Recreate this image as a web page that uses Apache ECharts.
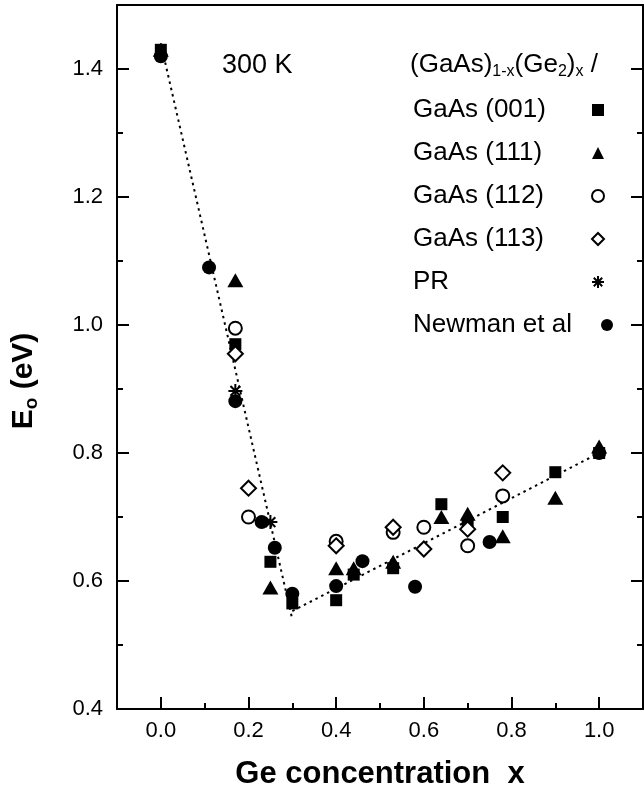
<!DOCTYPE html>
<html><head><meta charset="utf-8">
<script src="https://cdn.jsdelivr.net/npm/echarts@6/dist/echarts.min.js"></script>
<style>html,body{margin:0;padding:0;background:#fff}#c{width:644px;height:793px}</style>
</head><body><div id="c"></div>
<script>
// ---- data ----
const gaas001X = [0, 0.17, 0.25, 0.30, 0.40, 0.44, 0.53, 0.64, 0.70, 0.78, 0.90, 1.00];
const gaas001Y = [1.43, 0.97, 0.63, 0.565, 0.57, 0.61, 0.62, 0.72, 0.69, 0.70, 0.77, 0.80];
const gaas111X = [0, 0.17, 0.25, 0.40, 0.44, 0.53, 0.64, 0.70, 0.78, 0.90, 1.00];
const gaas111Y = [1.43, 1.07, 0.59, 0.62, 0.62, 0.63, 0.70, 0.705, 0.67, 0.73, 0.81];
const gaas112X = [0.17, 0.20, 0.40, 0.53, 0.60, 0.70, 0.78];
const gaas112Y = [0.995, 0.70, 0.662, 0.676, 0.684, 0.655, 0.733];
const gaas113X = [0.17, 0.20, 0.40, 0.53, 0.60, 0.70, 0.78];
const gaas113Y = [0.955, 0.745, 0.655, 0.684, 0.65, 0.681, 0.769];
const prX = [0.17, 0.25];
const prY = [0.897, 0.692];
const newmanX = [0, 0.11, 0.17, 0.23, 0.26, 0.30, 0.40, 0.46, 0.58, 0.75, 1.00];
const newmanY = [1.42, 1.09, 0.881, 0.692, 0.652, 0.58, 0.592, 0.631, 0.591, 0.661, 0.80];
const fit1X = [0, 0.30];
const fit1Y = [1.44, 0.54];
const fit2X = [0.30, 1.00];
const fit2Y = [0.553, 0.80];
const seriesNames = ['GaAs (001)', 'GaAs (111)', 'GaAs (112)', 'GaAs (113)', 'PR', 'Newman et al'];
const xMajor = [0, 0.2, 0.4, 0.6, 0.8, 1.0];
const xMinor = [0.1, 0.3, 0.5, 0.7, 0.9];
const yMajor = [0.4, 0.6, 0.8, 1.0, 1.2, 1.4];
const yMinor = [0.5, 0.7, 0.9, 1.1, 1.3];

const zip = (a, b) => a.map((v, i) => [v, b[i]]);
const FONT = 'Liberation Sans, Arial, Helvetica, sans-serif';
const BLACK = '#000';
const gridRect = {left: 117, right: 1, top: 5, bottom: 84, containLabel: false, outerBoundsMode: 'none'};
const lineStyleAx = {color: BLACK, width: 2};

const majorTick = (vals, len) => ({show: true, inside: true, length: len, customValues: vals, lineStyle: {color: BLACK, width: 2}});

const chart = echarts.init(document.getElementById('c'), null, {renderer: 'canvas'});
const asterisk = 'path://M6,0 L6,12 M0,6 L12,6 M1.8,1.8 L10.2,10.2 M1.8,10.2 L10.2,1.8';
const legendText = {fontFamily: FONT, fontSize: 26, lineHeight: 30, color: BLACK};

const option = {
  backgroundColor: '#fff',
  animation: false,
  textStyle: {fontFamily: FONT},
  title: [
    {text: '300 K', left: 217, top: 47, textStyle: {fontFamily: FONT, fontSize: 27, fontWeight: 'normal', color: BLACK}},
    {text: '{n|(GaAs)}{s|1-x}{n|(Ge}{s|2}{n|)}{s|x}{n| /}', left: 405, top: 45,
     textStyle: {fontFamily: FONT, fontWeight: 'normal', color: BLACK, rich: {
       n: {fontFamily: FONT, fontSize: 26, fontWeight: 'normal', lineHeight: 30, color: BLACK, verticalAlign: 'middle'},
       s: {fontFamily: FONT, fontSize: 16, fontWeight: 'normal', lineHeight: 16, color: BLACK, verticalAlign: 'bottom', padding: [16, 0, 0, 0]}
     }}}
  ],
  grid: [Object.assign({}, gridRect), Object.assign({}, gridRect)],
  xAxis: [
    {type: 'value', gridIndex: 0, position: 'bottom', min: -0.1, max: 1.1,
     axisLine: {show: true, onZero: false, lineStyle: lineStyleAx},
     axisTick: majorTick(xMajor, 12),
     axisLabel: {show: true, customValues: xMajor, formatter: v => v.toFixed(1), fontFamily: FONT, fontSize: 22, color: BLACK, margin: 11},
     splitLine: {show: false},
     name: 'Ge concentration  x', nameLocation: 'middle', nameGap: 50,
     nameTextStyle: {fontFamily: FONT, fontSize: 31, fontWeight: 'bold', color: BLACK}},
    {type: 'value', gridIndex: 1, position: 'bottom', min: -0.1, max: 1.1,
     axisLine: {show: false, onZero: false}, axisTick: majorTick(xMinor, 6),
     axisLabel: {show: false}, splitLine: {show: false}},
    {type: 'value', gridIndex: 1, position: 'top', min: -0.1, max: 1.1,
     axisLine: {show: true, onZero: false, lineStyle: lineStyleAx}, axisTick: {show: false},
     axisLabel: {show: false}, splitLine: {show: false}}
  ],
  yAxis: [
    {type: 'value', gridIndex: 0, position: 'left', min: 0.4, max: 1.5,
     axisLine: {show: true, onZero: false, lineStyle: lineStyleAx},
     axisTick: majorTick(yMajor, 12),
     axisLabel: {show: true, customValues: yMajor, formatter: v => v.toFixed(1), fontFamily: FONT, fontSize: 22, color: BLACK, margin: 14},
     splitLine: {show: false},
     name: '{e|E}{o|o}{e| (eV)}', nameLocation: 'middle', nameGap: 76, nameRotate: 90,
     nameTextStyle: {fontFamily: FONT, color: BLACK, padding: [0, 48, 0, 0], rich: {
       e: {fontFamily: FONT, fontSize: 30, fontWeight: 'bold', lineHeight: 34, color: BLACK, verticalAlign: 'middle'},
       o: {fontFamily: FONT, fontSize: 19, fontWeight: 'bold', lineHeight: 19, color: BLACK, verticalAlign: 'bottom', padding: [17, 0, 0, 0]}
     }}},
    {type: 'value', gridIndex: 0, position: 'right', min: 0.4, max: 1.5,
     axisLine: {show: true, onZero: false, lineStyle: lineStyleAx},
     axisTick: majorTick(yMajor, 12), axisLabel: {show: false}, splitLine: {show: false}},
    {type: 'value', gridIndex: 1, position: 'left', min: 0.4, max: 1.5,
     axisLine: {show: false, onZero: false}, axisTick: majorTick(yMinor, 6),
     axisLabel: {show: false}, splitLine: {show: false}},
    {type: 'value', gridIndex: 1, position: 'right', min: 0.4, max: 1.5,
     axisLine: {show: false, onZero: false}, axisTick: majorTick(yMinor, 6),
     axisLabel: {show: false}, splitLine: {show: false}}
  ],
  legend: [
    {orient: 'vertical', left: 402, top: 90, itemWidth: 0, itemHeight: 12, itemGap: 13, icon: 'rect',
     selectedMode: false, data: seriesNames, itemStyle: {opacity: 0}, textStyle: legendText},
    {orient: 'vertical', left: 586, top: 90, itemWidth: 12, itemHeight: 12, itemGap: 13,
     selectedMode: false, data: seriesNames.slice(0, 5), formatter: () => ' ', textStyle: legendText},
    {orient: 'vertical', left: 596, top: 305, itemWidth: 12, itemHeight: 12, itemGap: 13,
     selectedMode: false, data: seriesNames.slice(5), formatter: () => ' ', textStyle: legendText}
  ],
  series: [
    {type: 'line', xAxisIndex: 0, yAxisIndex: 0, data: zip(fit1X, fit1Y), symbol: 'none', silent: true,
     lineStyle: {color: BLACK, width: 2, type: [2.5, 4]}, z: 1},
    {type: 'line', xAxisIndex: 0, yAxisIndex: 0, data: zip(fit2X, fit2Y), symbol: 'none', silent: true,
     lineStyle: {color: BLACK, width: 2, type: [2.5, 4]}, z: 1},
    {name: seriesNames[0], type: 'scatter', data: zip(gaas001X, gaas001Y), symbol: 'rect', symbolSize: 12,
     itemStyle: {color: BLACK, opacity: 1}, z: 2},
    {name: seriesNames[1], type: 'scatter', data: zip(gaas111X, gaas111Y), symbol: 'triangle', symbolSize: [16, 14],
     itemStyle: {color: BLACK, opacity: 1}, z: 2},
    {name: seriesNames[2], type: 'scatter', data: zip(gaas112X, gaas112Y), symbol: 'circle', symbolSize: 13,
     itemStyle: {color: '#fff', borderColor: BLACK, borderWidth: 2, opacity: 1}, z: 2},
    {name: seriesNames[3], type: 'scatter', data: zip(gaas113X, gaas113Y), symbol: 'diamond', symbolSize: [15, 15],
     itemStyle: {color: '#fff', borderColor: BLACK, borderWidth: 2, opacity: 1}, z: 2},
    {name: seriesNames[4], type: 'scatter', data: zip(prX, prY), symbol: asterisk, symbolSize: 14,
     itemStyle: {color: 'rgba(0,0,0,0)', borderColor: BLACK, borderWidth: 2, opacity: 1}, z: 2},
    {name: seriesNames[5], type: 'scatter', data: zip(newmanX, newmanY), symbol: 'circle', symbolSize: 14,
     itemStyle: {color: BLACK, opacity: 1}, z: 2}
  ]
};
chart.setOption(option);
</script>
</body></html>
